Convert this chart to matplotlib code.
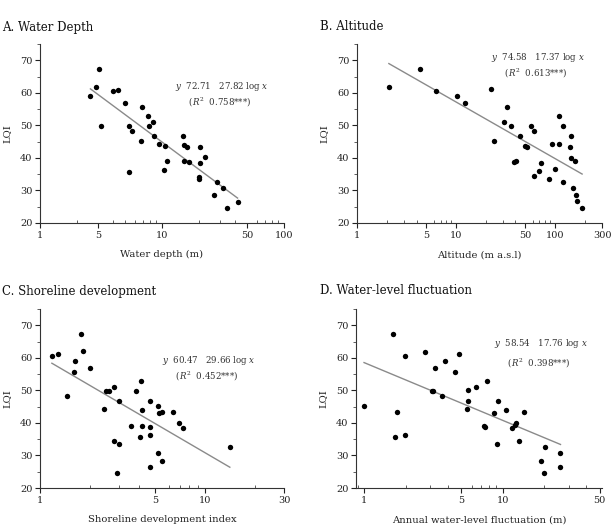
import numpy as np
import matplotlib
matplotlib.use("Agg")
import matplotlib.pyplot as plt
from matplotlib.ticker import FixedLocator, LogLocator, NullFormatter, MultipleLocator

plt.rcParams['font.family'] = ['DejaVu Serif']
plt.rcParams['mathtext.fontset'] = 'dejavuserif'

# ---- Data ----
depth_x = [2.59, 2.88, 3.03, 3.15, 3.96, 4.38, 5.0, 5.35, 5.70, 5.35, 6.68, 6.85, 7.72, 7.87,
           8.38, 8.65, 9.39, 10.58, 10.45, 11.0, 14.9, 15.1, 16.0, 15.1, 16.8, 20.5, 20.5,
           20.1, 20.1, 22.7, 28.3, 26.7, 31.7, 33.8, 41.6]
depth_y = [58.9, 61.8, 67.3, 49.9, 60.7, 61.0, 56.9, 49.7, 48.3, 35.8, 45.3, 55.7, 52.9, 49.9,
           51.1, 46.6, 44.4, 43.6, 36.4, 39.0, 46.8, 44.0, 43.2, 39.2, 38.6, 43.4, 38.4,
           34.0, 33.5, 40.2, 32.5, 28.5, 30.9, 24.5, 26.6]

alt_x = [2.10, 4.36, 6.23, 10.3, 12.4, 22.6, 24.4, 30.3, 33.2, 35.9, 44.7, 38.8, 40.7, 49.8,
         52.9, 58.1, 62.3, 60.9, 69.5, 72.8, 88.3, 94.0, 100.0, 110.7, 110.7, 122.3, 122.3,
         141.8, 146.2, 145.2, 153.0, 161.8, 165.5, 166.7, 188.8]
alt_y = [61.8, 67.4, 60.7, 58.9, 56.9, 61.1, 45.2, 51.1, 55.7, 49.9, 46.8, 38.6, 38.9, 43.6,
         43.2, 49.7, 48.3, 34.3, 35.9, 38.4, 33.5, 44.4, 36.5, 53.0, 44.2, 49.9, 32.6,
         43.4, 46.6, 40.1, 30.9, 39.2, 28.5, 26.7, 24.5]

shore_x = [1.18, 1.28, 1.64, 1.77, 1.83, 1.61, 1.45, 2.02, 2.45, 2.50, 2.62, 2.80, 2.80, 2.99,
           2.92, 2.99, 3.57, 3.82, 4.04, 4.10, 4.17, 4.15, 4.62, 4.62, 4.62, 4.64, 5.16,
           5.26, 5.46, 5.19, 5.51, 6.39, 6.91, 7.30, 14.1]
shore_y = [60.7, 61.2, 59.0, 67.4, 62.0, 55.6, 48.2, 57.0, 44.3, 49.9, 49.9, 51.1, 34.3, 33.6,
           24.5, 46.6, 39.1, 49.7, 35.8, 52.9, 43.9, 38.9, 46.8, 38.7, 36.4, 26.6, 45.2,
           43.1, 43.3, 30.8, 28.4, 43.5, 40.1, 38.5, 32.6]

fluct_x = [1.0, 1.63, 1.66, 1.73, 1.97, 1.97, 2.74, 3.07, 3.12, 3.26, 3.65, 3.85, 4.51, 4.81,
           5.51, 5.63, 5.66, 6.44, 7.30, 7.46, 7.71, 8.63, 9.07, 9.31, 10.6, 11.6, 12.2,
           12.4, 13.2, 14.3, 18.8, 19.7, 20.2, 25.8, 26.1]
fluct_y = [45.3, 67.4, 35.7, 43.5, 60.7, 36.4, 61.9, 49.9, 49.7, 57.0, 48.2, 59.0, 55.6, 61.2,
           44.3, 46.8, 50.0, 51.1, 38.9, 38.7, 52.9, 43.1, 33.4, 46.7, 43.9, 38.5, 39.5,
           40.1, 34.3, 43.3, 28.4, 24.5, 32.6, 30.8, 26.6]

titles = ["A. Water Depth", "B. Altitude", "C. Shoreline development", "D. Water-level fluctuation"]
xlabels = ["Water depth (m)", "Altitude (m a.s.l)", "Shoreline development index",
           "Annual water-level fluctuation (m)"]
intercepts = [72.71, 74.58, 60.47, 58.54]
slopes = [27.82, 17.37, 29.66, 17.76]
r2 = ["0.758", "0.613", "0.452", "0.398"]
xlims = [(1, 100), (1, 300), (1, 30), (0.875, 52)]
xtick_pos = [[1, 3, 10, 50, 100], [1, 5, 10, 50, 100, 300], [1, 5, 10, 30], [1, 5, 10, 50]]
xtick_lab = [["1", "5", "10", "50", "100"], ["1", "5", "10", "50", "100", "300"],
             ["1", "5", "10", "30"], ["1", "5", "10", "50"]]
yticks = [20, 30, 40, 50, 60, 70]

xs = [depth_x, alt_x, shore_x, fluct_x]
ys = [depth_y, alt_y, shore_y, fluct_y]

# layout (pixel-based)
W, H = 616, 527
axes_px = [(40, 44, 244, 179), (357, 44, 245, 179), (40, 309, 244, 179), (356, 309, 246, 179)]
eq_pos = [(0.553, 0.718), (0.547, 0.880), (0.500, 0.668), (0.561, 0.751)]
eq_spacing = [1.2, 1.2, 1.2, 1.6]
title_px = [(2, 27), (320, 27), (2, 291), (320, 291)]

fig = plt.figure(figsize=(W / 100, H / 100), dpi=100)

for i in range(4):
    l, t, w, h = axes_px[i]
    ax = fig.add_axes([l / W, 1 - (t + h) / H, w / W, h / H])
    ax.set_xscale('log')
    ax.scatter(xs[i], ys[i], s=15, color='black', zorder=3, linewidths=0)
    xx = np.logspace(np.log10(min(xs[i])), np.log10(max(xs[i])), 50)
    ax.plot(xx, intercepts[i] - slopes[i] * np.log10(xx), color='#8a8a8a', lw=1.0, zorder=2)
    ax.set_xlim(*xlims[i])
    ax.set_ylim(20, 75)
    ax.xaxis.set_major_locator(FixedLocator(xtick_pos[i]))
    ax.set_xticklabels(xtick_lab[i])
    ax.xaxis.set_minor_locator(LogLocator(base=10, subs=np.arange(2, 10)))
    ax.xaxis.set_minor_formatter(NullFormatter())
    ax.set_yticks(yticks)
    ax.yaxis.set_minor_locator(MultipleLocator(5))
    ax.tick_params(axis='x', which='major', direction='out', length=3.5, width=0.8,
                   labelsize=7, pad=2, colors='#222222')
    ax.tick_params(axis='x', which='minor', direction='in', length=2.5, width=0.6, colors='#444444')
    ax.tick_params(axis='y', which='major', direction='out', length=3.5, width=0.8,
                   labelsize=7, pad=2, colors='#222222')
    ax.tick_params(axis='y', which='minor', direction='out', length=2, width=0.6, colors='#444444')
    for s in ['top', 'right']:
        ax.spines[s].set_visible(False)
    for s in ['left', 'bottom']:
        ax.spines[s].set_linewidth(0.8)
        ax.spines[s].set_color('#333333')
    ax.set_xlabel(xlabels[i], fontsize=7.2, labelpad=7.5, color='#222222')
    ax.set_ylabel("LQI", fontsize=7.2, labelpad=6, color='#222222')
    x1, y1 = eq_pos[i]
    eq = ("$y$  %.2f   %.2f log $x$\n     ($R^2$  %s***)"
          % (intercepts[i], slopes[i], r2[i]))
    ax.text(x1, y1, eq, transform=ax.transAxes, fontsize=6.2, va='center', ha='left',
            multialignment='left', linespacing=eq_spacing[i], color='#333333')
    tx, ty = title_px[i]
    fig.text(tx / W, 1 - ty / H, titles[i], fontsize=8.5, ha='left', va='center', color='#111111')

fig.savefig("out.png", dpi=100)
